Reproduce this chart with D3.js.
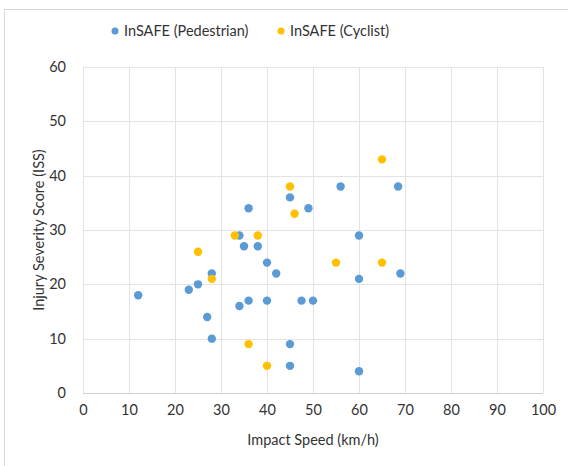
<!DOCTYPE html>
<html>
<head>
<meta charset="utf-8">
<script src="https://cdn.jsdelivr.net/npm/d3@7"></script>
<style>
  body { margin: 0; background: #fff; }
  text { font-family: Lato, "Open Sans", sans-serif; fill: #333; }
</style>
</head>
<body>
<svg id="chart"></svg>
<script>
// Data
const pedestrian = [
    [12, 18], [23, 19], [25, 20], [27, 14], [28, 22], [28, 10],
    [34, 29], [34, 16], [35, 27], [36, 34], [36, 17], [38, 27],
    [40, 24], [40, 17], [42, 22], [45, 36], [45, 9], [45, 5],
    [47.5, 17], [49, 34], [50, 17], [56, 38], [60, 29], [60, 21],
    [60, 4], [68.5, 38], [69, 22]
];
const cyclist = [
    [25, 26], [28, 21], [33, 29], [36, 9], [38, 29], [40, 5],
    [45, 38], [46, 33], [55, 24], [65, 43], [65, 24]
];
const xTicks = [0, 10, 20, 30, 40, 50, 60, 70, 80, 90, 100];
const yTicks = [0, 10, 20, 30, 40, 50, 60];
const seriesNames = ["InSAFE (Pedestrian)", "InSAFE (Cyclist)"];
const seriesColors = ["#5b9bd5", "#ffc000"];

const W = 568, H = 466;
const margin = { top: 67, right: 25, bottom: 73, left: 83 };
const width = W - margin.left - margin.right;
const height = H - margin.top - margin.bottom;

const svg = d3.select("#chart")
    .attr("width", W)
    .attr("height", H);

// chart border
svg.append("rect")
    .attr("x", 4.5).attr("y", 9.5)
    .attr("width", W + 10).attr("height", H + 10)
    .attr("fill", "none")
    .attr("stroke", "#d9d9d9");

const g = svg.append("g")
    .attr("transform", `translate(${margin.left},${margin.top})`);

const x = d3.scaleLinear().domain([0, 100]).range([0, width]);
const y = d3.scaleLinear().domain([0, 60]).range([height, 0]);

// gridlines
g.append("g")
    .selectAll("line")
    .data(xTicks)
    .enter().append("line")
    .attr("x1", d => Math.round(x(d)) + 0.5)
    .attr("x2", d => Math.round(x(d)) + 0.5)
    .attr("y1", 0)
    .attr("y2", height)
    .attr("stroke", "#e3e3e3");

g.append("g")
    .selectAll("line")
    .data(yTicks)
    .enter().append("line")
    .attr("x1", 0)
    .attr("x2", width)
    .attr("y1", d => Math.round(y(d)) + 0.5)
    .attr("y2", d => Math.round(y(d)) + 0.5)
    .attr("stroke", d => d === 0 ? "#d0d0d0" : "#e3e3e3");

// axes (labels only)
const xAxis = d3.axisBottom(x).tickValues(xTicks).tickSize(0).tickPadding(12);
const yAxis = d3.axisLeft(y).tickValues(yTicks).tickSize(0).tickPadding(17);

g.append("g")
    .attr("transform", `translate(0,${height})`)
    .call(xAxis)
    .call(a => a.select(".domain").remove())
    .selectAll("text")
    .style("font-size", "14.5px")
    .style("font-family", "Lato, sans-serif")
    .attr("fill", "#333");

g.append("g")
    .call(yAxis)
    .call(a => a.select(".domain").remove())
    .selectAll("text")
    .style("font-size", "14.5px")
    .style("font-family", "Lato, sans-serif")
    .attr("fill", "#333");

// points
[pedestrian, cyclist].forEach((series, i) => {
    g.append("g")
        .selectAll("circle")
        .data(series)
        .enter().append("circle")
        .attr("cx", d => x(d[0]))
        .attr("cy", d => y(d[1]))
        .attr("r", 4.2)
        .attr("fill", seriesColors[i]);
});

// axis titles
svg.append("text")
    .attr("x", margin.left + width / 2)
    .attr("y", 445)
    .attr("text-anchor", "middle")
    .style("font-size", "14.5px")
    .text("Impact Speed (km/h)");

svg.append("text")
    .attr("transform", `translate(44,${margin.top + height / 2}) rotate(-90)`)
    .attr("text-anchor", "middle")
    .style("font-size", "14.5px")
    .text("Injury Severity Score (ISS)");

// legend
const legendX = [115, 281];
const legend = svg.append("g");
seriesNames.forEach((name, i) => {
    legend.append("circle")
        .attr("cx", legendX[i])
        .attr("cy", 31)
        .attr("r", 3.5)
        .attr("fill", seriesColors[i]);
    legend.append("text")
        .attr("x", legendX[i] + 9)
        .attr("y", 36)
        .style("font-size", "14.5px")
        .text(name);
});
</script>
</body>
</html>
